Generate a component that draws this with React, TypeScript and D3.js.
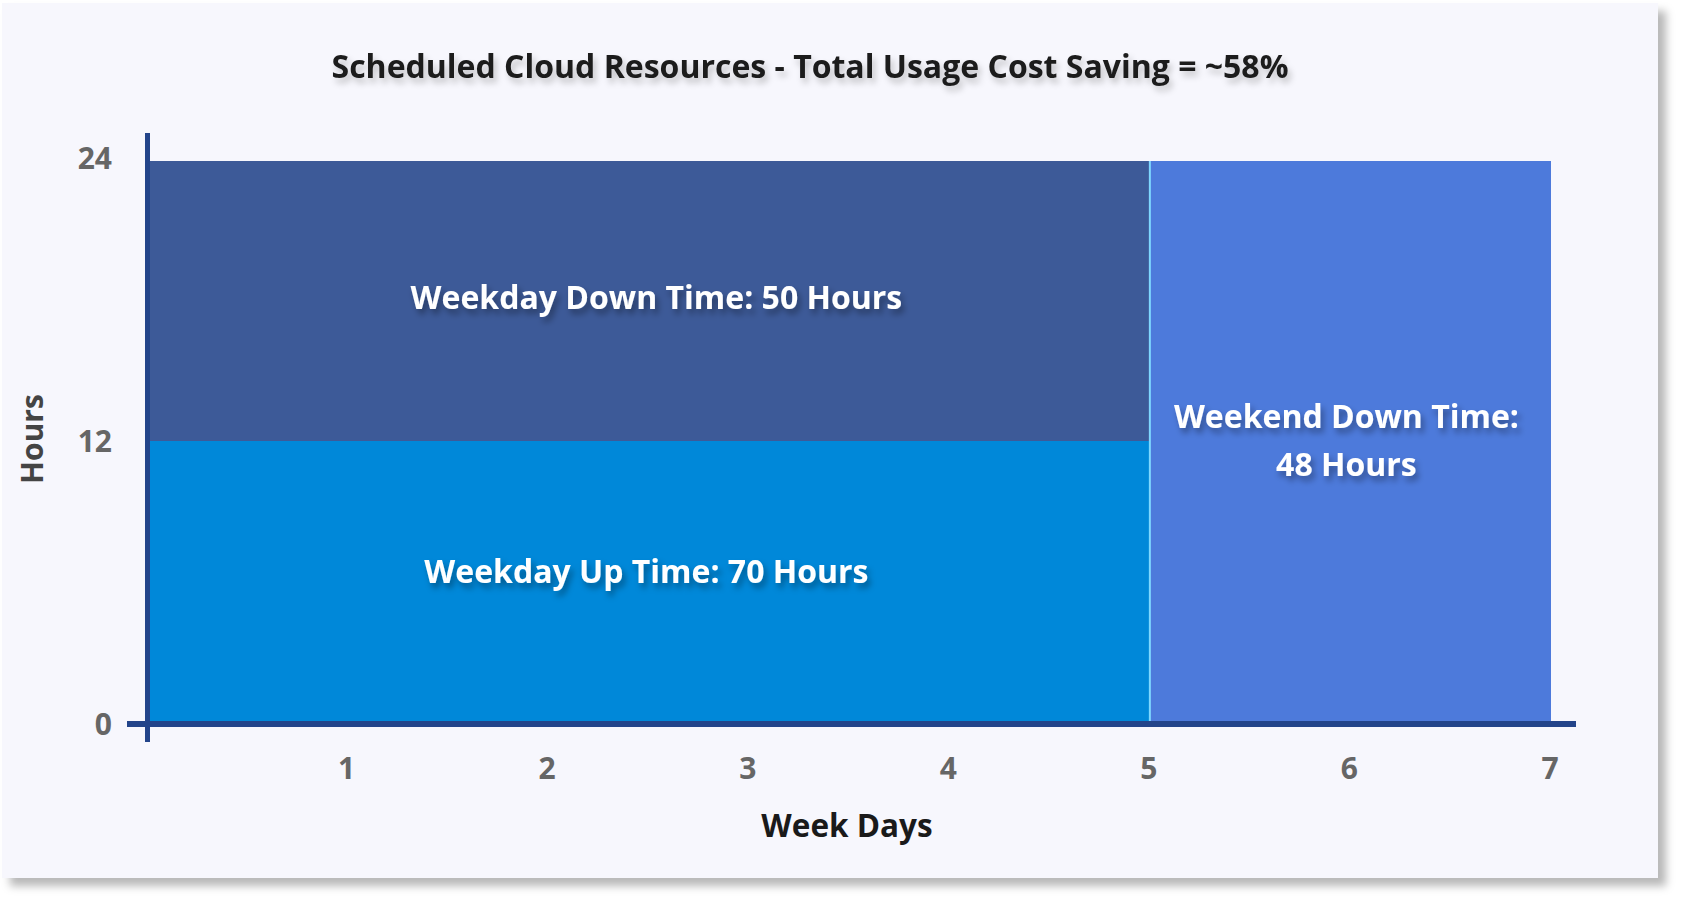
import * as d3 from "d3";

const W = 1683;
const H = 902;

// hours per day, x in week days
const segNames = ["Weekday Up Time", "Weekday Down Time", "Weekend Down Time"];
const segDayStart = [0, 0, 5];
const segDayEnd = [5, 5, 7];
const segHourLow = [0, 12, 0];
const segHourHigh = [12, 24, 24];
const segColors = ["#0088d9", "#3d5a98", "#4d7adb"];
const segLabels = [
  ["Weekday Up Time: 70 Hours"],
  ["Weekday Down Time: 50 Hours"],
  ["Weekend Down Time:", "48 Hours"],
];

const xTicks = [1, 2, 3, 4, 5, 6, 7];
const yTicks = [0, 12, 24];

const title = "Scheduled Cloud Resources - Total Usage Cost Saving = ~58%";
const font = "'Open Sans', sans-serif";

// small nudges so the labels sit where the original put them
const labelDx = [-2, 8, -4];
const labelDy = [-9, -3, 0];

export default function App() {
  const x = d3.scaleLinear().domain([0, 7]).range([147, 1551]);
  const y = d3.scaleLinear().domain([0, 24]).range([721, 161]);

  return (
    <svg
      width={W}
      height={H}
      style={{ position: "absolute", left: 0, top: 0, background: "#ffffff" }}
      fontFamily={font}
    >
      <defs>
        <filter id="card" x="-5%" y="-5%" width="110%" height="115%">
          <feDropShadow dx="8" dy="8" stdDeviation="4" floodColor="#000" floodOpacity="0.28" />
        </filter>
        <filter id="txt" x="-10%" y="-40%" width="120%" height="200%">
          <feDropShadow dx="3" dy="5" stdDeviation="3" floodColor="#000" floodOpacity="0.35" />
        </filter>
        <filter id="ttl" x="-10%" y="-40%" width="120%" height="200%">
          <feDropShadow dx="3" dy="5" stdDeviation="3" floodColor="#000" floodOpacity="0.22" />
        </filter>
      </defs>

      <rect x={2} y={3} width={1656} height={875} fill="#f7f7fd" filter="url(#card)" />

      <text
        x={810}
        y={78}
        textAnchor="middle"
        fontSize={32}
        fontWeight={700}
        fill="#1a1a1a"
        filter="url(#ttl)"
      >
        {title}
      </text>

      {segNames.map((n, i) => (
        <rect
          key={n}
          x={x(segDayStart[i])}
          y={y(segHourHigh[i])}
          width={x(segDayEnd[i]) - x(segDayStart[i])}
          height={y(segHourLow[i]) - y(segHourHigh[i])}
          fill={segColors[i]}
        />
      ))}
      {/* divider between weekdays and weekend */}
      <line x1={x(5)} x2={x(5)} y1={y(24)} y2={y(0)} stroke="#7fd8ff" strokeWidth={2} />

      {segNames.map((n, i) => {
        const cx = (x(segDayStart[i]) + x(segDayEnd[i])) / 2 + labelDx[i];
        const cy = (y(segHourLow[i]) + y(segHourHigh[i])) / 2 + labelDy[i];
        const lines = segLabels[i];
        const lh = 48;
        return (
          <text
            key={n + "-lbl"}
            x={cx}
            textAnchor="middle"
            fontSize={32}
            fontWeight={700}
            fill="#ffffff"
            filter="url(#txt)"
          >
            {lines.map((l, j) => (
              <tspan key={j} x={cx} y={cy + 11 + (j - (lines.length - 1) / 2) * lh}>
                {l}
              </tspan>
            ))}
          </text>
        );
      })}

      {/* axes */}
      <line x1={127} x2={1576} y1={724} y2={724} stroke="#23448a" strokeWidth={6} />
      <line x1={147.5} x2={147.5} y1={133} y2={742} stroke="#23448a" strokeWidth={5} />

      {yTicks.map((t) => (
        <text
          key={"y" + t}
          x={112}
          y={y(t) + 11 + (t === 24 ? -3 : t === 0 ? 3 : 0)}
          textAnchor="end"
          fontSize={30}
          fontWeight={700}
          fill="#666666"
        >
          {t}
        </text>
      ))}
      {xTicks.map((t) => (
        <text
          key={"x" + t}
          x={x(t) - 1}
          y={779}
          textAnchor="middle"
          fontSize={30}
          fontWeight={700}
          fill="#666666"
        >
          {t}
        </text>
      ))}

      <text x={847} y={837} textAnchor="middle" fontSize={31.5} fontWeight={700} fill="#1a1a1a">
        Week Days
      </text>
      <text
        transform="translate(43,439) rotate(-90)"
        textAnchor="middle"
        fontSize={30}
        fontWeight={700}
        fill="#444444"
      >
        Hours
      </text>
    </svg>
  );
}
